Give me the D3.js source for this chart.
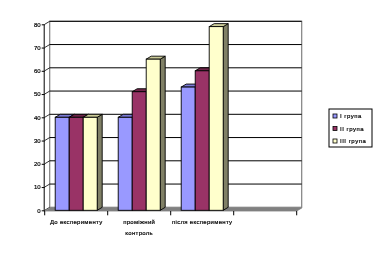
<!DOCTYPE html>
<html>
<head>
<meta charset="utf-8">
<script src="https://cdn.jsdelivr.net/npm/d3@7"></script>
<style>
  body { margin: 0; background: #fff; }
  svg { will-change: transform; }
  text { font-family: "Liberation Sans", Arial, sans-serif; font-size: 6px; fill: #000; stroke: #000; stroke-width: 0.2px; opacity: 0.99; }
</style>
</head>
<body>
<div id="chart"></div>
<script>
// data
var categories = ["До експерименту", "проміжний контроль", "після експерименту", ""];
var series = ["I група", "II група", "III група"];
var group1 = [40, 40, 53, null];
var group2 = [40, 51, 60, null];
var group3 = [40, 65, 79, null];
var yTicks = [0, 10, 20, 30, 40, 50, 60, 70, 80];

var fronts = ["#9999ff", "#993366", "#ffffcc"];
var tops = ["#7b7bd6", "#6e2549", "#cccc99"];
var sides = ["#5c5c99", "#5a1e3c", "#808066"];

var width = 379, height = 256;
var dx = 5, dy = -3;

var svg = d3.select("#chart").append("svg")
    .attr("width", width)
    .attr("height", height);

var x = d3.scaleBand().domain(categories).range([44.7, 296.7]).padding(0);
var bw = x.bandwidth();
var xs = d3.scaleBand().domain(series).range([bw / 6, bw * 5 / 6]).padding(0);
var y = d3.scaleLinear().domain([0, 80]).range([210.3, 24.3]);

var x0 = x.range()[0], x1 = x.range()[1];

// back wall
svg.append("rect")
    .attr("x", x0 + dx).attr("y", y(80) + dy)
    .attr("width", x1 - x0).attr("height", y(0) - y(80))
    .attr("fill", "#fff")
    .attr("stroke", "#808080").attr("stroke-width", 1.2);

// gridlines on the wall and the little connectors to the axis
svg.append("g").selectAll("line.grid")
    .data(yTicks.filter(function (d) { return d > 0; }))
    .enter().append("line")
    .attr("x1", x0 + dx).attr("x2", x1 + dx)
    .attr("y1", function (d) { return y(d) + dy; })
    .attr("y2", function (d) { return y(d) + dy; })
    .attr("stroke", "#000").attr("stroke-width", 1);

svg.append("g").selectAll("line.conn")
    .data(yTicks)
    .enter().append("line")
    .attr("x1", x0).attr("x2", x0 + dx)
    .attr("y1", function (d) { return y(d); })
    .attr("y2", function (d) { return y(d) + dy; })
    .attr("stroke", "#000").attr("stroke-width", 0.8);

// floor
svg.append("path")
    .attr("d", "M" + x0 + "," + (y(0) + 0.7) + "L" + (x0 + dx) + "," + (y(0) + dy + 0.7) +
        "L" + (x1 + dx) + "," + (y(0) + dy + 0.7) + "L" + x1 + "," + (y(0) + 0.7) + "Z")
    .attr("fill", "#808080").attr("stroke", "#808080").attr("stroke-width", 0.8);

// bars
var values = [group1, group2, group3];
var bars = [];
categories.forEach(function (c, i) {
    series.forEach(function (s, j) {
        if (values[j][i] != null) bars.push({ cat: c, s: s, j: j, v: values[j][i] });
    });
});

var g = svg.append("g").selectAll("g.bar")
    .data(bars)
    .enter().append("g");

g.each(function (d) {
    var el = d3.select(this);
    var bx = x(d.cat) + xs(d.s), w = xs.bandwidth();
    var top = y(d.v), bot = y(0);
    el.append("path")
        .attr("d", "M" + (bx + w) + "," + bot + "L" + (bx + w + dx) + "," + (bot + dy) +
            "L" + (bx + w + dx) + "," + (top + dy) + "L" + (bx + w) + "," + top + "Z")
        .attr("fill", sides[d.j]).attr("stroke", "#000").attr("stroke-width", 0.9);
    el.append("path")
        .attr("d", "M" + bx + "," + top + "L" + (bx + dx) + "," + (top + dy) +
            "L" + (bx + w + dx) + "," + (top + dy) + "L" + (bx + w) + "," + top + "Z")
        .attr("fill", tops[d.j]).attr("stroke", "#000").attr("stroke-width", 0.9);
    el.append("rect")
        .attr("x", bx).attr("y", top)
        .attr("width", w).attr("height", bot - top)
        .attr("fill", fronts[d.j]).attr("stroke", "#000").attr("stroke-width", 0.9);
});

// y axis
var yAxis = svg.append("g")
    .attr("transform", "translate(" + x0 + ",0)")
    .call(d3.axisLeft(y).tickValues(yTicks).tickSize(3).tickPadding(1));
yAxis.select(".domain").attr("d", "M-0.5," + y(80) + "V" + (y(0) + 1)).attr("stroke", "#000");
yAxis.selectAll("text").style("font-size", "6px").style("font-family", "Liberation Sans");

// x axis ticks at category boundaries
var bounds = categories.map(function (c) { return x(c); }).concat([x1]);
svg.append("g").selectAll("line.xt")
    .data(bounds)
    .enter().append("line")
    .attr("x1", function (d) { return d; }).attr("x2", function (d) { return d; })
    .attr("y1", y(0) + 0.7).attr("y2", y(0) + 5)
    .attr("stroke", "#000").attr("stroke-width", 1);

// category labels
var labelLines = [["До експерименту"], ["проміжний", "контроль"], ["після експерименту"], []];
categories.forEach(function (c, i) {
    svg.append("text")
        .attr("x", x(c) + bw / 2)
        .attr("y", 224)
        .attr("text-anchor", "middle")
        .attr("letter-spacing", "0.3px")
        .selectAll("tspan")
        .data(labelLines[i])
        .enter().append("tspan")
        .attr("x", x(c) + bw / 2)
        .attr("dy", function (d, k) { return k === 0 ? 0 : 11; })
        .text(function (d) { return d; });
});

// legend
var legend = svg.append("g").attr("transform", "translate(329,109)");
legend.append("rect")
    .attr("width", 43).attr("height", 38)
    .attr("fill", "#fff").attr("stroke", "#000").attr("stroke-width", 1);
var li = legend.selectAll("g.item")
    .data(series)
    .enter().append("g")
    .attr("transform", function (d, i) { return "translate(4," + (7 + i * 12.5) + ")"; });
li.append("rect")
    .attr("x", 0).attr("y", -2).attr("width", 4).attr("height", 4)
    .attr("fill", function (d, i) { return fronts[i]; })
    .attr("stroke", "#000").attr("stroke-width", 0.8);
li.append("text")
    .attr("x", 7).attr("y", 2)
    .attr("letter-spacing", "0.5px")
    .text(function (d) { return d; });
</script>
</body>
</html>
